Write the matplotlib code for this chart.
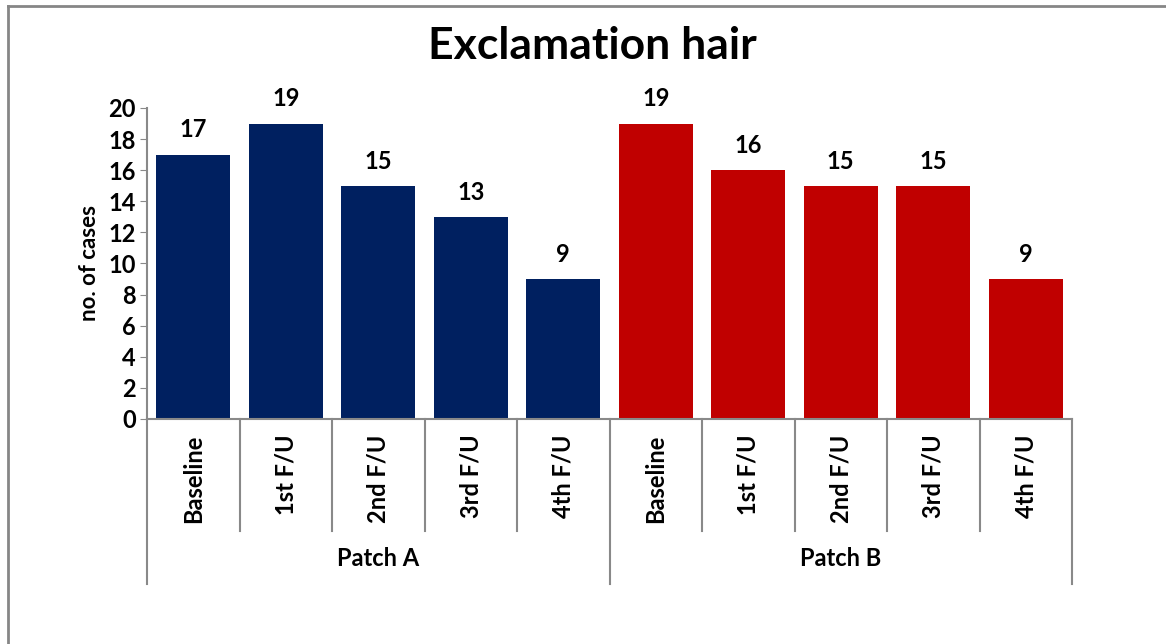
import matplotlib.pyplot as plt
from matplotlib.lines import Line2D

categories = ["Baseline", "1st F/U", "2nd F/U", "3rd F/U", "4th F/U"]
groups = ["Patch A", "Patch B"]
patch_a = [17, 19, 15, 13, 9]
patch_b = [19, 16, 15, 15, 9]
colors = ["#002060", "#C00000"]

plt.rcParams["font.family"] = ["Lato", "DejaVu Sans"]
plt.rcParams["font.weight"] = "bold"

fig = plt.figure(figsize=(11.66, 6.44), dpi=100)
ax = fig.add_axes([0.1261, 0.3494, 0.7933, 0.4829])

values = [patch_a, patch_b]
n = len(categories)
for g, (vals, col) in enumerate(zip(values, colors)):
    xs = [g * n + i for i in range(n)]
    ax.bar(xs, vals, width=0.8, color=col)
    for x, v in zip(xs, vals):
        ax.text(x, v + 0.85, str(v), ha="center", va="bottom",
                fontsize=17, fontweight="bold")

ax.set_xlim(-0.5, 2 * n - 0.5)
ax.set_ylim(0, 20)
ax.set_yticks(range(0, 21, 2))
ax.tick_params(axis="y", labelsize=17, length=5, color="#898989", pad=3)
ax.set_xticks([])
for s in ["top", "right"]:
    ax.spines[s].set_visible(False)
for s in ["left", "bottom"]:
    ax.spines[s].set_color("#898989")
    ax.spines[s].set_linewidth(1.5)
ax.set_ylabel("no. of cases", fontsize=16, fontweight="bold", labelpad=6)

# two-level category axis drawn below the plot
trans = ax.get_xaxis_transform()
inner_depth = -0.36
outer_depth = -0.53
for k in range(2 * n + 1):
    depth = outer_depth if k % n == 0 else inner_depth
    ax.add_line(Line2D([k - 0.5, k - 0.5], [0, depth], transform=trans,
                       color="#898989", lw=1.5, clip_on=False))
for g, name in enumerate(groups):
    for i, cat in enumerate(categories):
        ax.text(g * n + i, -0.05, cat, transform=trans, rotation=90,
                ha="center", va="top", fontsize=17, fontweight="bold")
    ax.text(g * n + (n - 1) / 2, -0.45, name, transform=trans,
            ha="center", va="center", fontsize=17, fontweight="bold")

fig.suptitle("Exclamation hair", x=0.508, y=0.96, fontsize=32,
             fontweight="bold")

# chart frame border (left and top edges)
fig.add_artist(Line2D([0.0065, 0.0065], [0, 0.99], transform=fig.transFigure,
                      color="#868686", lw=2))
fig.add_artist(Line2D([0.0065, 1.0], [0.99, 0.99], transform=fig.transFigure,
                      color="#868686", lw=2))

fig.savefig("out.png", dpi=100)
